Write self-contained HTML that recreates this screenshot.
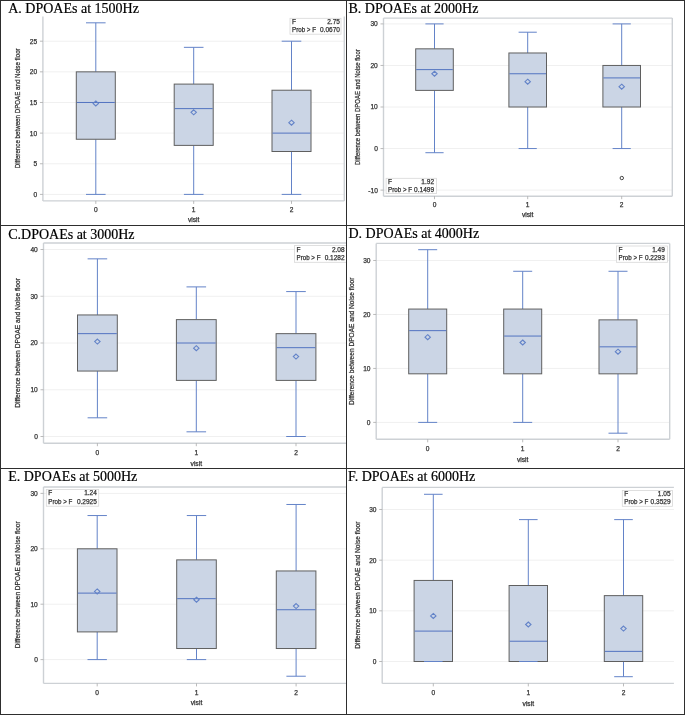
<!DOCTYPE html>
<html><head><meta charset="utf-8"><title>DPOAEs</title>
<style>
html,body{margin:0;padding:0;background:#fff;}
body{width:685px;height:715px;overflow:hidden;}
svg{display:block;font-family:"Liberation Sans", sans-serif;will-change:transform;} .t{stroke:#333;stroke-width:0.25;}
</style></head><body>
<svg width="685" height="715" viewBox="0 0 685 715">
<defs>
<clipPath id="cA"><rect x="0" y="0" width="346" height="225"/></clipPath>
<clipPath id="cB"><rect x="346" y="0" width="338" height="225"/></clipPath>
<clipPath id="cC"><rect x="0" y="225" width="346" height="243"/></clipPath>
<clipPath id="cD"><rect x="346" y="225" width="338" height="243"/></clipPath>
<clipPath id="cE"><rect x="0" y="468" width="346" height="246"/></clipPath>
<clipPath id="cF"><rect x="346" y="468" width="338" height="246"/></clipPath>
</defs>
<rect x="0" y="0" width="685" height="715" fill="#fff"/>
<g clip-path="url(#cA)">
<line x1="42.9" x2="344.3" y1="194.4" y2="194.4" stroke="#f0f0f0" stroke-width="1"/>
<line x1="42.9" x2="344.3" y1="163.76" y2="163.76" stroke="#f0f0f0" stroke-width="1"/>
<line x1="42.9" x2="344.3" y1="133.12" y2="133.12" stroke="#f0f0f0" stroke-width="1"/>
<line x1="42.9" x2="344.3" y1="102.48" y2="102.48" stroke="#f0f0f0" stroke-width="1"/>
<line x1="42.9" x2="344.3" y1="71.84" y2="71.84" stroke="#f0f0f0" stroke-width="1"/>
<line x1="42.9" x2="344.3" y1="41.2" y2="41.2" stroke="#f0f0f0" stroke-width="1"/>
<line x1="42.9" x2="42.9" y1="16.6" y2="200.9" stroke="#cdd1d5" stroke-width="1.4"/>
<line x1="42.9" x2="344.3" y1="200.9" y2="200.9" stroke="#cdd1d5" stroke-width="1.4"/>
<line x1="344.3" x2="344.3" y1="16.6" y2="200.9" stroke="#cdd1d5" stroke-width="1.4"/>
<line x1="39.9" x2="42.9" y1="194.4" y2="194.4" stroke="#aaa" stroke-width="0.8"/>
<text x="37.2" y="196.8" text-anchor="end" font-size="6.6" fill="#333333" class="t">0</text>
<line x1="39.9" x2="42.9" y1="163.76" y2="163.76" stroke="#aaa" stroke-width="0.8"/>
<text x="37.2" y="166.16" text-anchor="end" font-size="6.6" fill="#333333" class="t">5</text>
<line x1="39.9" x2="42.9" y1="133.12" y2="133.12" stroke="#aaa" stroke-width="0.8"/>
<text x="37.2" y="135.52" text-anchor="end" font-size="6.6" fill="#333333" class="t">10</text>
<line x1="39.9" x2="42.9" y1="102.48" y2="102.48" stroke="#aaa" stroke-width="0.8"/>
<text x="37.2" y="104.88" text-anchor="end" font-size="6.6" fill="#333333" class="t">15</text>
<line x1="39.9" x2="42.9" y1="71.84" y2="71.84" stroke="#aaa" stroke-width="0.8"/>
<text x="37.2" y="74.24" text-anchor="end" font-size="6.6" fill="#333333" class="t">20</text>
<line x1="39.9" x2="42.9" y1="41.2" y2="41.2" stroke="#aaa" stroke-width="0.8"/>
<text x="37.2" y="43.6" text-anchor="end" font-size="6.6" fill="#333333" class="t">25</text>
<line x1="95.8" x2="95.8" y1="200.9" y2="203.9" stroke="#aaa" stroke-width="0.8"/>
<text x="95.8" y="212" text-anchor="middle" font-size="6.6" fill="#333333" class="t">0</text>
<line x1="193.7" x2="193.7" y1="200.9" y2="203.9" stroke="#aaa" stroke-width="0.8"/>
<text x="193.7" y="212" text-anchor="middle" font-size="6.6" fill="#333333" class="t">1</text>
<line x1="291.5" x2="291.5" y1="200.9" y2="203.9" stroke="#aaa" stroke-width="0.8"/>
<text x="291.5" y="212" text-anchor="middle" font-size="6.6" fill="#333333" class="t">2</text>
<text x="193.7" y="222.3" text-anchor="middle" font-size="6.7" fill="#333333" class="t">visit</text>
<text transform="translate(19.8,108.3) rotate(-90)" text-anchor="middle" font-size="7.6" textLength="119.9" lengthAdjust="spacingAndGlyphs" fill="#333333" class="t">Difference between DPOAE and Noise floor</text>
<line x1="95.8" x2="95.8" y1="22.82" y2="71.84" stroke="#6383c8" stroke-width="1"/>
<line x1="95.8" x2="95.8" y1="139.25" y2="194.4" stroke="#6383c8" stroke-width="1"/>
<line x1="86" x2="105.6" y1="22.82" y2="22.82" stroke="#6383c8" stroke-width="1"/>
<line x1="86" x2="105.6" y1="194.4" y2="194.4" stroke="#6383c8" stroke-width="1"/>
<rect x="76.3" y="71.84" width="39" height="67.41" fill="#cbd5e5" stroke="#5f5f5f" stroke-width="1"/>
<line x1="76.8" x2="114.8" y1="102.48" y2="102.48" stroke="#5273c0" stroke-width="1"/>
<path d="M95.8,100.9 L98.5,103.4 L95.8,105.9 L93.1,103.4 Z" fill="none" stroke="#6383c8" stroke-width="1.1"/>
<line x1="193.7" x2="193.7" y1="47.33" y2="84.1" stroke="#6383c8" stroke-width="1"/>
<line x1="193.7" x2="193.7" y1="145.38" y2="194.4" stroke="#6383c8" stroke-width="1"/>
<line x1="183.9" x2="203.5" y1="47.33" y2="47.33" stroke="#6383c8" stroke-width="1"/>
<line x1="183.9" x2="203.5" y1="194.4" y2="194.4" stroke="#6383c8" stroke-width="1"/>
<rect x="174.2" y="84.1" width="39" height="61.28" fill="#cbd5e5" stroke="#5f5f5f" stroke-width="1"/>
<line x1="174.7" x2="212.7" y1="108.61" y2="108.61" stroke="#5273c0" stroke-width="1"/>
<path d="M193.7,109.78 L196.4,112.28 L193.7,114.78 L191,112.28 Z" fill="none" stroke="#6383c8" stroke-width="1.1"/>
<line x1="291.5" x2="291.5" y1="41.2" y2="90.22" stroke="#6383c8" stroke-width="1"/>
<line x1="291.5" x2="291.5" y1="151.5" y2="194.4" stroke="#6383c8" stroke-width="1"/>
<line x1="281.7" x2="301.3" y1="41.2" y2="41.2" stroke="#6383c8" stroke-width="1"/>
<line x1="281.7" x2="301.3" y1="194.4" y2="194.4" stroke="#6383c8" stroke-width="1"/>
<rect x="272" y="90.22" width="39" height="61.28" fill="#cbd5e5" stroke="#5f5f5f" stroke-width="1"/>
<line x1="272.5" x2="310.5" y1="133.12" y2="133.12" stroke="#5273c0" stroke-width="1"/>
<path d="M291.5,120.2 L294.2,122.7 L291.5,125.2 L288.8,122.7 Z" fill="none" stroke="#6383c8" stroke-width="1.1"/>
<rect x="290" y="18.3" width="51" height="15.9" fill="#fff" stroke="#d8d8d8" stroke-width="0.8"/>
<text x="292" y="23.9" font-size="6.5" fill="#333333" class="t">F</text>
<text x="339.9" y="23.9" text-anchor="end" font-size="6.5" fill="#333333" class="t">2.75</text>
<text x="292" y="31.7" font-size="6.5" textLength="24" lengthAdjust="spacingAndGlyphs" fill="#333333" class="t">Prob &gt; F</text>
<text x="339.9" y="31.7" text-anchor="end" font-size="6.5" fill="#333333" class="t">0.0670</text>
</g>
<text x="8.2" y="12.9" font-family='"Liberation Serif", serif' font-size="14" fill="#000" stroke="#000" stroke-width="0.2">A. DPOAEs at 1500Hz</text>
<g clip-path="url(#cB)">
<line x1="383.5" x2="672.3" y1="190.1" y2="190.1" stroke="#f0f0f0" stroke-width="1"/>
<line x1="383.5" x2="672.3" y1="148.55" y2="148.55" stroke="#f0f0f0" stroke-width="1"/>
<line x1="383.5" x2="672.3" y1="107" y2="107" stroke="#f0f0f0" stroke-width="1"/>
<line x1="383.5" x2="672.3" y1="65.45" y2="65.45" stroke="#f0f0f0" stroke-width="1"/>
<line x1="383.5" x2="672.3" y1="23.9" y2="23.9" stroke="#f0f0f0" stroke-width="1"/>
<line x1="383.5" x2="672.3" y1="18.1" y2="18.1" stroke="#cdd1d5" stroke-width="1.4"/>
<line x1="383.5" x2="383.5" y1="18.1" y2="196.2" stroke="#cdd1d5" stroke-width="1.4"/>
<line x1="383.5" x2="672.3" y1="196.2" y2="196.2" stroke="#cdd1d5" stroke-width="1.4"/>
<line x1="672.3" x2="672.3" y1="18.1" y2="196.2" stroke="#cdd1d5" stroke-width="1.4"/>
<line x1="380.5" x2="383.5" y1="190.1" y2="190.1" stroke="#aaa" stroke-width="0.8"/>
<text x="377.8" y="192.5" text-anchor="end" font-size="6.6" fill="#333333" class="t">-10</text>
<line x1="380.5" x2="383.5" y1="148.55" y2="148.55" stroke="#aaa" stroke-width="0.8"/>
<text x="377.8" y="150.95" text-anchor="end" font-size="6.6" fill="#333333" class="t">0</text>
<line x1="380.5" x2="383.5" y1="107" y2="107" stroke="#aaa" stroke-width="0.8"/>
<text x="377.8" y="109.4" text-anchor="end" font-size="6.6" fill="#333333" class="t">10</text>
<line x1="380.5" x2="383.5" y1="65.45" y2="65.45" stroke="#aaa" stroke-width="0.8"/>
<text x="377.8" y="67.85" text-anchor="end" font-size="6.6" fill="#333333" class="t">20</text>
<line x1="380.5" x2="383.5" y1="23.9" y2="23.9" stroke="#aaa" stroke-width="0.8"/>
<text x="377.8" y="26.3" text-anchor="end" font-size="6.6" fill="#333333" class="t">30</text>
<line x1="434.5" x2="434.5" y1="196.2" y2="199.2" stroke="#aaa" stroke-width="0.8"/>
<text x="434.5" y="206.6" text-anchor="middle" font-size="6.6" fill="#333333" class="t">0</text>
<line x1="527.7" x2="527.7" y1="196.2" y2="199.2" stroke="#aaa" stroke-width="0.8"/>
<text x="527.7" y="206.6" text-anchor="middle" font-size="6.6" fill="#333333" class="t">1</text>
<line x1="621.7" x2="621.7" y1="196.2" y2="199.2" stroke="#aaa" stroke-width="0.8"/>
<text x="621.7" y="206.6" text-anchor="middle" font-size="6.6" fill="#333333" class="t">2</text>
<text x="527.7" y="216.8" text-anchor="middle" font-size="6.7" fill="#333333" class="t">visit</text>
<text transform="translate(359.6,107.1) rotate(-90)" text-anchor="middle" font-size="7.6" textLength="115.7" lengthAdjust="spacingAndGlyphs" fill="#333333" class="t">Difference between DPOAE and Noise floor</text>
<line x1="434.5" x2="434.5" y1="23.9" y2="48.83" stroke="#6383c8" stroke-width="1"/>
<line x1="434.5" x2="434.5" y1="90.38" y2="152.71" stroke="#6383c8" stroke-width="1"/>
<line x1="425.4" x2="443.6" y1="23.9" y2="23.9" stroke="#6383c8" stroke-width="1"/>
<line x1="425.4" x2="443.6" y1="152.71" y2="152.71" stroke="#6383c8" stroke-width="1"/>
<rect x="415.7" y="48.83" width="37.6" height="41.55" fill="#cbd5e5" stroke="#5f5f5f" stroke-width="1"/>
<line x1="416.2" x2="452.8" y1="69.61" y2="69.61" stroke="#5273c0" stroke-width="1"/>
<path d="M434.5,71.26 L437.2,73.76 L434.5,76.26 L431.8,73.76 Z" fill="none" stroke="#6383c8" stroke-width="1.1"/>
<line x1="527.7" x2="527.7" y1="32.21" y2="52.98" stroke="#6383c8" stroke-width="1"/>
<line x1="527.7" x2="527.7" y1="107" y2="148.55" stroke="#6383c8" stroke-width="1"/>
<line x1="518.6" x2="536.8" y1="32.21" y2="32.21" stroke="#6383c8" stroke-width="1"/>
<line x1="518.6" x2="536.8" y1="148.55" y2="148.55" stroke="#6383c8" stroke-width="1"/>
<rect x="508.9" y="52.98" width="37.6" height="54.02" fill="#cbd5e5" stroke="#5f5f5f" stroke-width="1"/>
<line x1="509.4" x2="546" y1="73.76" y2="73.76" stroke="#5273c0" stroke-width="1"/>
<path d="M527.7,79.15 L530.4,81.65 L527.7,84.15 L525,81.65 Z" fill="none" stroke="#6383c8" stroke-width="1.1"/>
<line x1="621.7" x2="621.7" y1="23.9" y2="65.45" stroke="#6383c8" stroke-width="1"/>
<line x1="621.7" x2="621.7" y1="107" y2="148.55" stroke="#6383c8" stroke-width="1"/>
<line x1="612.6" x2="630.8" y1="23.9" y2="23.9" stroke="#6383c8" stroke-width="1"/>
<line x1="612.6" x2="630.8" y1="148.55" y2="148.55" stroke="#6383c8" stroke-width="1"/>
<rect x="602.9" y="65.45" width="37.6" height="41.55" fill="#cbd5e5" stroke="#5f5f5f" stroke-width="1"/>
<line x1="603.4" x2="640" y1="77.92" y2="77.92" stroke="#5273c0" stroke-width="1"/>
<path d="M621.7,84.14 L624.4,86.64 L621.7,89.14 L619,86.64 Z" fill="none" stroke="#6383c8" stroke-width="1.1"/>
<circle cx="621.8" cy="178.04" r="1.7" fill="none" stroke="#333" stroke-width="0.9"/>
<rect x="386.1" y="178.3" width="50.4" height="15.3" fill="#fff" stroke="#d8d8d8" stroke-width="0.8"/>
<text x="388.1" y="184" font-size="6.5" fill="#333333" class="t">F</text>
<text x="434" y="184" text-anchor="end" font-size="6.5" fill="#333333" class="t">1.92</text>
<text x="388.1" y="191.5" font-size="6.5" textLength="24" lengthAdjust="spacingAndGlyphs" fill="#333333" class="t">Prob &gt; F</text>
<text x="434" y="191.5" text-anchor="end" font-size="6.5" fill="#333333" class="t">0.1499</text>
</g>
<text x="348.5" y="12.9" font-family='"Liberation Serif", serif' font-size="14" fill="#000" stroke="#000" stroke-width="0.2">B. DPOAEs at 2000Hz</text>
<g clip-path="url(#cC)">
<line x1="43.5" x2="360" y1="436.5" y2="436.5" stroke="#f0f0f0" stroke-width="1"/>
<line x1="43.5" x2="360" y1="389.75" y2="389.75" stroke="#f0f0f0" stroke-width="1"/>
<line x1="43.5" x2="360" y1="343" y2="343" stroke="#f0f0f0" stroke-width="1"/>
<line x1="43.5" x2="360" y1="296.25" y2="296.25" stroke="#f0f0f0" stroke-width="1"/>
<line x1="43.5" x2="360" y1="249.5" y2="249.5" stroke="#f0f0f0" stroke-width="1"/>
<line x1="43.5" x2="360" y1="243" y2="243" stroke="#cdd1d5" stroke-width="1.4"/>
<line x1="43.5" x2="43.5" y1="243" y2="443.2" stroke="#cdd1d5" stroke-width="1.4"/>
<line x1="43.5" x2="360" y1="443.2" y2="443.2" stroke="#cdd1d5" stroke-width="1.4"/>
<line x1="360" x2="360" y1="243" y2="443.2" stroke="#cdd1d5" stroke-width="1.4"/>
<line x1="40.5" x2="43.5" y1="436.5" y2="436.5" stroke="#aaa" stroke-width="0.8"/>
<text x="37.8" y="438.9" text-anchor="end" font-size="6.6" fill="#333333" class="t">0</text>
<line x1="40.5" x2="43.5" y1="389.75" y2="389.75" stroke="#aaa" stroke-width="0.8"/>
<text x="37.8" y="392.15" text-anchor="end" font-size="6.6" fill="#333333" class="t">10</text>
<line x1="40.5" x2="43.5" y1="343" y2="343" stroke="#aaa" stroke-width="0.8"/>
<text x="37.8" y="345.4" text-anchor="end" font-size="6.6" fill="#333333" class="t">20</text>
<line x1="40.5" x2="43.5" y1="296.25" y2="296.25" stroke="#aaa" stroke-width="0.8"/>
<text x="37.8" y="298.65" text-anchor="end" font-size="6.6" fill="#333333" class="t">30</text>
<line x1="40.5" x2="43.5" y1="249.5" y2="249.5" stroke="#aaa" stroke-width="0.8"/>
<text x="37.8" y="251.9" text-anchor="end" font-size="6.6" fill="#333333" class="t">40</text>
<line x1="97.4" x2="97.4" y1="443.2" y2="446.2" stroke="#aaa" stroke-width="0.8"/>
<text x="97.4" y="454.5" text-anchor="middle" font-size="6.6" fill="#333333" class="t">0</text>
<line x1="196.3" x2="196.3" y1="443.2" y2="446.2" stroke="#aaa" stroke-width="0.8"/>
<text x="196.3" y="454.5" text-anchor="middle" font-size="6.6" fill="#333333" class="t">1</text>
<line x1="296" x2="296" y1="443.2" y2="446.2" stroke="#aaa" stroke-width="0.8"/>
<text x="296" y="454.5" text-anchor="middle" font-size="6.6" fill="#333333" class="t">2</text>
<text x="196.3" y="465.8" text-anchor="middle" font-size="6.7" fill="#333333" class="t">visit</text>
<text transform="translate(20,342.9) rotate(-90)" text-anchor="middle" font-size="7.6" textLength="129.9" lengthAdjust="spacingAndGlyphs" fill="#333333" class="t">Difference between DPOAE and Noise floor</text>
<line x1="97.4" x2="97.4" y1="258.85" y2="314.95" stroke="#6383c8" stroke-width="1"/>
<line x1="97.4" x2="97.4" y1="371.05" y2="417.8" stroke="#6383c8" stroke-width="1"/>
<line x1="87.6" x2="107.2" y1="258.85" y2="258.85" stroke="#6383c8" stroke-width="1"/>
<line x1="87.6" x2="107.2" y1="417.8" y2="417.8" stroke="#6383c8" stroke-width="1"/>
<rect x="77.5" y="314.95" width="39.8" height="56.1" fill="#cbd5e5" stroke="#5f5f5f" stroke-width="1"/>
<line x1="78" x2="116.8" y1="333.65" y2="333.65" stroke="#5273c0" stroke-width="1"/>
<path d="M97.4,339.1 L100.1,341.6 L97.4,344.1 L94.7,341.6 Z" fill="none" stroke="#6383c8" stroke-width="1.1"/>
<line x1="196.3" x2="196.3" y1="286.9" y2="319.62" stroke="#6383c8" stroke-width="1"/>
<line x1="196.3" x2="196.3" y1="380.4" y2="431.82" stroke="#6383c8" stroke-width="1"/>
<line x1="186.5" x2="206.1" y1="286.9" y2="286.9" stroke="#6383c8" stroke-width="1"/>
<line x1="186.5" x2="206.1" y1="431.82" y2="431.82" stroke="#6383c8" stroke-width="1"/>
<rect x="176.4" y="319.62" width="39.8" height="60.77" fill="#cbd5e5" stroke="#5f5f5f" stroke-width="1"/>
<line x1="176.9" x2="215.7" y1="343" y2="343" stroke="#5273c0" stroke-width="1"/>
<path d="M196.3,345.64 L199,348.14 L196.3,350.64 L193.6,348.14 Z" fill="none" stroke="#6383c8" stroke-width="1.1"/>
<line x1="296" x2="296" y1="291.58" y2="333.65" stroke="#6383c8" stroke-width="1"/>
<line x1="296" x2="296" y1="380.4" y2="436.5" stroke="#6383c8" stroke-width="1"/>
<line x1="286.2" x2="305.8" y1="291.58" y2="291.58" stroke="#6383c8" stroke-width="1"/>
<line x1="286.2" x2="305.8" y1="436.5" y2="436.5" stroke="#6383c8" stroke-width="1"/>
<rect x="276.1" y="333.65" width="39.8" height="46.75" fill="#cbd5e5" stroke="#5f5f5f" stroke-width="1"/>
<line x1="276.6" x2="315.4" y1="347.68" y2="347.68" stroke="#5273c0" stroke-width="1"/>
<path d="M296,354.06 L298.7,356.56 L296,359.06 L293.3,356.56 Z" fill="none" stroke="#6383c8" stroke-width="1.1"/>
<rect x="294.5" y="245.6" width="53.5" height="16.7" fill="#fff" stroke="#d8d8d8" stroke-width="0.8"/>
<text x="296.5" y="251.8" font-size="6.5" fill="#333333" class="t">F</text>
<text x="344.6" y="251.8" text-anchor="end" font-size="6.5" fill="#333333" class="t">2.08</text>
<text x="296.5" y="259.8" font-size="6.5" textLength="24" lengthAdjust="spacingAndGlyphs" fill="#333333" class="t">Prob &gt; F</text>
<text x="344.6" y="259.8" text-anchor="end" font-size="6.5" fill="#333333" class="t">0.1282</text>
</g>
<text x="8.2" y="238.7" font-family='"Liberation Serif", serif' font-size="14" fill="#000" stroke="#000" stroke-width="0.2">C.DPOAEs at 3000Hz</text>
<g clip-path="url(#cD)">
<line x1="376.2" x2="669.7" y1="422.4" y2="422.4" stroke="#f0f0f0" stroke-width="1"/>
<line x1="376.2" x2="669.7" y1="368.43" y2="368.43" stroke="#f0f0f0" stroke-width="1"/>
<line x1="376.2" x2="669.7" y1="314.46" y2="314.46" stroke="#f0f0f0" stroke-width="1"/>
<line x1="376.2" x2="669.7" y1="260.49" y2="260.49" stroke="#f0f0f0" stroke-width="1"/>
<line x1="376.2" x2="669.7" y1="243.4" y2="243.4" stroke="#cdd1d5" stroke-width="1.4"/>
<line x1="376.2" x2="376.2" y1="243.4" y2="439.3" stroke="#cdd1d5" stroke-width="1.4"/>
<line x1="376.2" x2="669.7" y1="439.3" y2="439.3" stroke="#cdd1d5" stroke-width="1.4"/>
<line x1="669.7" x2="669.7" y1="243.4" y2="439.3" stroke="#cdd1d5" stroke-width="1.4"/>
<line x1="373.2" x2="376.2" y1="422.4" y2="422.4" stroke="#aaa" stroke-width="0.8"/>
<text x="370.5" y="424.8" text-anchor="end" font-size="6.6" fill="#333333" class="t">0</text>
<line x1="373.2" x2="376.2" y1="368.43" y2="368.43" stroke="#aaa" stroke-width="0.8"/>
<text x="370.5" y="370.83" text-anchor="end" font-size="6.6" fill="#333333" class="t">10</text>
<line x1="373.2" x2="376.2" y1="314.46" y2="314.46" stroke="#aaa" stroke-width="0.8"/>
<text x="370.5" y="316.86" text-anchor="end" font-size="6.6" fill="#333333" class="t">20</text>
<line x1="373.2" x2="376.2" y1="260.49" y2="260.49" stroke="#aaa" stroke-width="0.8"/>
<text x="370.5" y="262.89" text-anchor="end" font-size="6.6" fill="#333333" class="t">30</text>
<line x1="427.7" x2="427.7" y1="439.3" y2="442.3" stroke="#aaa" stroke-width="0.8"/>
<text x="427.7" y="450.8" text-anchor="middle" font-size="6.6" fill="#333333" class="t">0</text>
<line x1="522.7" x2="522.7" y1="439.3" y2="442.3" stroke="#aaa" stroke-width="0.8"/>
<text x="522.7" y="450.8" text-anchor="middle" font-size="6.6" fill="#333333" class="t">1</text>
<line x1="618" x2="618" y1="439.3" y2="442.3" stroke="#aaa" stroke-width="0.8"/>
<text x="618" y="450.8" text-anchor="middle" font-size="6.6" fill="#333333" class="t">2</text>
<text x="522.7" y="461.5" text-anchor="middle" font-size="6.7" fill="#333333" class="t">visit</text>
<text transform="translate(353.8,341.25) rotate(-90)" text-anchor="middle" font-size="7.6" textLength="127.4" lengthAdjust="spacingAndGlyphs" fill="#333333" class="t">Difference between DPOAE and Noise floor</text>
<line x1="427.7" x2="427.7" y1="249.7" y2="309.06" stroke="#6383c8" stroke-width="1"/>
<line x1="427.7" x2="427.7" y1="373.83" y2="422.4" stroke="#6383c8" stroke-width="1"/>
<line x1="418.2" x2="437.2" y1="249.7" y2="249.7" stroke="#6383c8" stroke-width="1"/>
<line x1="418.2" x2="437.2" y1="422.4" y2="422.4" stroke="#6383c8" stroke-width="1"/>
<rect x="408.7" y="309.06" width="38" height="64.76" fill="#cbd5e5" stroke="#5f5f5f" stroke-width="1"/>
<line x1="409.2" x2="446.2" y1="330.65" y2="330.65" stroke="#5273c0" stroke-width="1"/>
<path d="M427.7,334.63 L430.4,337.13 L427.7,339.63 L425,337.13 Z" fill="none" stroke="#6383c8" stroke-width="1.1"/>
<line x1="522.7" x2="522.7" y1="271.28" y2="309.06" stroke="#6383c8" stroke-width="1"/>
<line x1="522.7" x2="522.7" y1="373.83" y2="422.4" stroke="#6383c8" stroke-width="1"/>
<line x1="513.2" x2="532.2" y1="271.28" y2="271.28" stroke="#6383c8" stroke-width="1"/>
<line x1="513.2" x2="532.2" y1="422.4" y2="422.4" stroke="#6383c8" stroke-width="1"/>
<rect x="503.7" y="309.06" width="38" height="64.76" fill="#cbd5e5" stroke="#5f5f5f" stroke-width="1"/>
<line x1="504.2" x2="541.2" y1="336.05" y2="336.05" stroke="#5273c0" stroke-width="1"/>
<path d="M522.7,340.02 L525.4,342.52 L522.7,345.02 L520,342.52 Z" fill="none" stroke="#6383c8" stroke-width="1.1"/>
<line x1="618" x2="618" y1="271.28" y2="319.86" stroke="#6383c8" stroke-width="1"/>
<line x1="618" x2="618" y1="373.83" y2="433.19" stroke="#6383c8" stroke-width="1"/>
<line x1="608.5" x2="627.5" y1="271.28" y2="271.28" stroke="#6383c8" stroke-width="1"/>
<line x1="608.5" x2="627.5" y1="433.19" y2="433.19" stroke="#6383c8" stroke-width="1"/>
<rect x="599" y="319.86" width="38" height="53.97" fill="#cbd5e5" stroke="#5f5f5f" stroke-width="1"/>
<line x1="599.5" x2="636.5" y1="346.84" y2="346.84" stroke="#5273c0" stroke-width="1"/>
<path d="M618,349.2 L620.7,351.7 L618,354.2 L615.3,351.7 Z" fill="none" stroke="#6383c8" stroke-width="1.1"/>
<rect x="616.6" y="246" width="50.9" height="16.3" fill="#fff" stroke="#d8d8d8" stroke-width="0.8"/>
<text x="618.6" y="251.9" font-size="6.5" fill="#333333" class="t">F</text>
<text x="664.8" y="251.9" text-anchor="end" font-size="6.5" fill="#333333" class="t">1.49</text>
<text x="618.6" y="259.9" font-size="6.5" textLength="24" lengthAdjust="spacingAndGlyphs" fill="#333333" class="t">Prob &gt; F</text>
<text x="664.8" y="259.9" text-anchor="end" font-size="6.5" fill="#333333" class="t">0.2293</text>
</g>
<text x="348.5" y="238.3" font-family='"Liberation Serif", serif' font-size="14" fill="#000" stroke="#000" stroke-width="0.2">D. DPOAEs at 4000Hz</text>
<g clip-path="url(#cE)">
<line x1="43.5" x2="360" y1="659.6" y2="659.6" stroke="#f0f0f0" stroke-width="1"/>
<line x1="43.5" x2="360" y1="604.2" y2="604.2" stroke="#f0f0f0" stroke-width="1"/>
<line x1="43.5" x2="360" y1="548.8" y2="548.8" stroke="#f0f0f0" stroke-width="1"/>
<line x1="43.5" x2="360" y1="493.4" y2="493.4" stroke="#f0f0f0" stroke-width="1"/>
<line x1="43.5" x2="360" y1="487" y2="487" stroke="#cdd1d5" stroke-width="1.4"/>
<line x1="43.5" x2="43.5" y1="487" y2="683.4" stroke="#cdd1d5" stroke-width="1.4"/>
<line x1="43.5" x2="360" y1="683.4" y2="683.4" stroke="#cdd1d5" stroke-width="1.4"/>
<line x1="360" x2="360" y1="487" y2="683.4" stroke="#cdd1d5" stroke-width="1.4"/>
<line x1="40.5" x2="43.5" y1="659.6" y2="659.6" stroke="#aaa" stroke-width="0.8"/>
<text x="37.8" y="662" text-anchor="end" font-size="6.6" fill="#333333" class="t">0</text>
<line x1="40.5" x2="43.5" y1="604.2" y2="604.2" stroke="#aaa" stroke-width="0.8"/>
<text x="37.8" y="606.6" text-anchor="end" font-size="6.6" fill="#333333" class="t">10</text>
<line x1="40.5" x2="43.5" y1="548.8" y2="548.8" stroke="#aaa" stroke-width="0.8"/>
<text x="37.8" y="551.2" text-anchor="end" font-size="6.6" fill="#333333" class="t">20</text>
<line x1="40.5" x2="43.5" y1="493.4" y2="493.4" stroke="#aaa" stroke-width="0.8"/>
<text x="37.8" y="495.8" text-anchor="end" font-size="6.6" fill="#333333" class="t">30</text>
<line x1="97.2" x2="97.2" y1="683.4" y2="686.4" stroke="#aaa" stroke-width="0.8"/>
<text x="97.2" y="694.7" text-anchor="middle" font-size="6.6" fill="#333333" class="t">0</text>
<line x1="196.5" x2="196.5" y1="683.4" y2="686.4" stroke="#aaa" stroke-width="0.8"/>
<text x="196.5" y="694.7" text-anchor="middle" font-size="6.6" fill="#333333" class="t">1</text>
<line x1="296.1" x2="296.1" y1="683.4" y2="686.4" stroke="#aaa" stroke-width="0.8"/>
<text x="296.1" y="694.7" text-anchor="middle" font-size="6.6" fill="#333333" class="t">2</text>
<text x="196.5" y="705.3" text-anchor="middle" font-size="6.7" fill="#333333" class="t">visit</text>
<text transform="translate(20.1,584.8) rotate(-90)" text-anchor="middle" font-size="7.6" textLength="126.9" lengthAdjust="spacingAndGlyphs" fill="#333333" class="t">Difference between DPOAE and Noise floor</text>
<line x1="97.2" x2="97.2" y1="515.56" y2="548.8" stroke="#6383c8" stroke-width="1"/>
<line x1="97.2" x2="97.2" y1="631.9" y2="659.6" stroke="#6383c8" stroke-width="1"/>
<line x1="87.5" x2="106.9" y1="515.56" y2="515.56" stroke="#6383c8" stroke-width="1"/>
<line x1="87.5" x2="106.9" y1="659.6" y2="659.6" stroke="#6383c8" stroke-width="1"/>
<rect x="77.4" y="548.8" width="39.6" height="83.1" fill="#cbd5e5" stroke="#5f5f5f" stroke-width="1"/>
<line x1="77.9" x2="116.5" y1="593.12" y2="593.12" stroke="#5273c0" stroke-width="1"/>
<path d="M97.2,588.96 L99.9,591.46 L97.2,593.96 L94.5,591.46 Z" fill="none" stroke="#6383c8" stroke-width="1.1"/>
<line x1="196.5" x2="196.5" y1="515.56" y2="559.88" stroke="#6383c8" stroke-width="1"/>
<line x1="196.5" x2="196.5" y1="648.52" y2="659.6" stroke="#6383c8" stroke-width="1"/>
<line x1="186.8" x2="206.2" y1="515.56" y2="515.56" stroke="#6383c8" stroke-width="1"/>
<line x1="186.8" x2="206.2" y1="659.6" y2="659.6" stroke="#6383c8" stroke-width="1"/>
<rect x="176.7" y="559.88" width="39.6" height="88.64" fill="#cbd5e5" stroke="#5f5f5f" stroke-width="1"/>
<line x1="177.2" x2="215.8" y1="598.66" y2="598.66" stroke="#5273c0" stroke-width="1"/>
<path d="M196.5,597.27 L199.2,599.77 L196.5,602.27 L193.8,599.77 Z" fill="none" stroke="#6383c8" stroke-width="1.1"/>
<line x1="296.1" x2="296.1" y1="504.48" y2="570.96" stroke="#6383c8" stroke-width="1"/>
<line x1="296.1" x2="296.1" y1="648.52" y2="676.22" stroke="#6383c8" stroke-width="1"/>
<line x1="286.4" x2="305.8" y1="504.48" y2="504.48" stroke="#6383c8" stroke-width="1"/>
<line x1="286.4" x2="305.8" y1="676.22" y2="676.22" stroke="#6383c8" stroke-width="1"/>
<rect x="276.3" y="570.96" width="39.6" height="77.56" fill="#cbd5e5" stroke="#5f5f5f" stroke-width="1"/>
<line x1="276.8" x2="315.4" y1="609.74" y2="609.74" stroke="#5273c0" stroke-width="1"/>
<path d="M296.1,603.58 L298.8,606.08 L296.1,608.58 L293.4,606.08 Z" fill="none" stroke="#6383c8" stroke-width="1.1"/>
<rect x="46.3" y="489.5" width="52.4" height="16.7" fill="#fff" stroke="#d8d8d8" stroke-width="0.8"/>
<text x="48.3" y="495.1" font-size="6.5" fill="#333333" class="t">F</text>
<text x="96.8" y="495.1" text-anchor="end" font-size="6.5" fill="#333333" class="t">1.24</text>
<text x="48.3" y="503.5" font-size="6.5" textLength="24" lengthAdjust="spacingAndGlyphs" fill="#333333" class="t">Prob &gt; F</text>
<text x="96.8" y="503.5" text-anchor="end" font-size="6.5" fill="#333333" class="t">0.2925</text>
</g>
<text x="8.2" y="481.3" font-family='"Liberation Serif", serif' font-size="14" fill="#000" stroke="#000" stroke-width="0.2">E. DPOAEs at 5000Hz</text>
<g clip-path="url(#cF)">
<line x1="382.2" x2="673.9" y1="661.5" y2="661.5" stroke="#f0f0f0" stroke-width="1"/>
<line x1="382.2" x2="673.9" y1="610.83" y2="610.83" stroke="#f0f0f0" stroke-width="1"/>
<line x1="382.2" x2="673.9" y1="560.16" y2="560.16" stroke="#f0f0f0" stroke-width="1"/>
<line x1="382.2" x2="673.9" y1="509.49" y2="509.49" stroke="#f0f0f0" stroke-width="1"/>
<line x1="382.2" x2="673.9" y1="487.4" y2="487.4" stroke="#cdd1d5" stroke-width="1.4"/>
<line x1="382.2" x2="382.2" y1="487.4" y2="683.4" stroke="#cdd1d5" stroke-width="1.4"/>
<line x1="382.2" x2="673.9" y1="683.4" y2="683.4" stroke="#cdd1d5" stroke-width="1.4"/>
<line x1="379.2" x2="382.2" y1="661.5" y2="661.5" stroke="#aaa" stroke-width="0.8"/>
<text x="376.5" y="663.9" text-anchor="end" font-size="6.6" fill="#333333" class="t">0</text>
<line x1="379.2" x2="382.2" y1="610.83" y2="610.83" stroke="#aaa" stroke-width="0.8"/>
<text x="376.5" y="613.23" text-anchor="end" font-size="6.6" fill="#333333" class="t">10</text>
<line x1="379.2" x2="382.2" y1="560.16" y2="560.16" stroke="#aaa" stroke-width="0.8"/>
<text x="376.5" y="562.56" text-anchor="end" font-size="6.6" fill="#333333" class="t">20</text>
<line x1="379.2" x2="382.2" y1="509.49" y2="509.49" stroke="#aaa" stroke-width="0.8"/>
<text x="376.5" y="511.89" text-anchor="end" font-size="6.6" fill="#333333" class="t">30</text>
<line x1="433.3" x2="433.3" y1="683.4" y2="686.4" stroke="#aaa" stroke-width="0.8"/>
<text x="433.3" y="694.5" text-anchor="middle" font-size="6.6" fill="#333333" class="t">0</text>
<line x1="528.3" x2="528.3" y1="683.4" y2="686.4" stroke="#aaa" stroke-width="0.8"/>
<text x="528.3" y="694.5" text-anchor="middle" font-size="6.6" fill="#333333" class="t">1</text>
<line x1="623.5" x2="623.5" y1="683.4" y2="686.4" stroke="#aaa" stroke-width="0.8"/>
<text x="623.5" y="694.5" text-anchor="middle" font-size="6.6" fill="#333333" class="t">2</text>
<text x="528.3" y="705.6" text-anchor="middle" font-size="6.7" fill="#333333" class="t">visit</text>
<text transform="translate(359.7,585.15) rotate(-90)" text-anchor="middle" font-size="7.6" textLength="127.2" lengthAdjust="spacingAndGlyphs" fill="#333333" class="t">Difference between DPOAE and Noise floor</text>
<line x1="433.3" x2="433.3" y1="494.29" y2="580.43" stroke="#6383c8" stroke-width="1"/>
<line x1="433.3" x2="433.3" y1="661.5" y2="661.5" stroke="#6383c8" stroke-width="1"/>
<line x1="424" x2="442.6" y1="494.29" y2="494.29" stroke="#6383c8" stroke-width="1"/>
<line x1="424" x2="442.6" y1="661.5" y2="661.5" stroke="#6383c8" stroke-width="1"/>
<rect x="414.1" y="580.43" width="38.4" height="81.07" fill="#cbd5e5" stroke="#5f5f5f" stroke-width="1"/>
<line x1="414.6" x2="452" y1="631.1" y2="631.1" stroke="#5273c0" stroke-width="1"/>
<line x1="424" x2="442.6" y1="661.5" y2="661.5" stroke="#6383c8" stroke-width="1"/>
<path d="M433.3,613.4 L436,615.9 L433.3,618.4 L430.6,615.9 Z" fill="none" stroke="#6383c8" stroke-width="1.1"/>
<line x1="528.3" x2="528.3" y1="519.62" y2="585.5" stroke="#6383c8" stroke-width="1"/>
<line x1="528.3" x2="528.3" y1="661.5" y2="661.5" stroke="#6383c8" stroke-width="1"/>
<line x1="519" x2="537.6" y1="519.62" y2="519.62" stroke="#6383c8" stroke-width="1"/>
<line x1="519" x2="537.6" y1="661.5" y2="661.5" stroke="#6383c8" stroke-width="1"/>
<rect x="509.1" y="585.5" width="38.4" height="76" fill="#cbd5e5" stroke="#5f5f5f" stroke-width="1"/>
<line x1="509.6" x2="547" y1="641.23" y2="641.23" stroke="#5273c0" stroke-width="1"/>
<line x1="519" x2="537.6" y1="661.5" y2="661.5" stroke="#6383c8" stroke-width="1"/>
<path d="M528.3,622.01 L531,624.51 L528.3,627.01 L525.6,624.51 Z" fill="none" stroke="#6383c8" stroke-width="1.1"/>
<line x1="623.5" x2="623.5" y1="519.62" y2="595.63" stroke="#6383c8" stroke-width="1"/>
<line x1="623.5" x2="623.5" y1="661.5" y2="676.7" stroke="#6383c8" stroke-width="1"/>
<line x1="614.2" x2="632.8" y1="519.62" y2="519.62" stroke="#6383c8" stroke-width="1"/>
<line x1="614.2" x2="632.8" y1="676.7" y2="676.7" stroke="#6383c8" stroke-width="1"/>
<rect x="604.3" y="595.63" width="38.4" height="65.87" fill="#cbd5e5" stroke="#5f5f5f" stroke-width="1"/>
<line x1="604.8" x2="642.2" y1="651.37" y2="651.37" stroke="#5273c0" stroke-width="1"/>
<path d="M623.5,626.06 L626.2,628.56 L623.5,631.06 L620.8,628.56 Z" fill="none" stroke="#6383c8" stroke-width="1.1"/>
<rect x="622.3" y="490.4" width="50.1" height="15.9" fill="#fff" stroke="#d8d8d8" stroke-width="0.8"/>
<text x="624.3" y="495.9" font-size="6.5" fill="#333333" class="t">F</text>
<text x="670.5" y="495.9" text-anchor="end" font-size="6.5" fill="#333333" class="t">1.05</text>
<text x="624.3" y="503.9" font-size="6.5" textLength="24" lengthAdjust="spacingAndGlyphs" fill="#333333" class="t">Prob &gt; F</text>
<text x="670.5" y="503.9" text-anchor="end" font-size="6.5" fill="#333333" class="t">0.3529</text>
</g>
<text x="348" y="480.7" font-family='"Liberation Serif", serif' font-size="14" fill="#000" stroke="#000" stroke-width="0.2">F. DPOAEs at 6000Hz</text>
<g stroke="#2e2e2e" stroke-width="1" fill="none">
<rect x="0.5" y="0.5" width="684" height="714"/>
<line x1="346.5" x2="346.5" y1="0" y2="715"/>
<line x1="0" x2="685" y1="225.5" y2="225.5"/>
<line x1="0" x2="685" y1="468.5" y2="468.5"/>
</g>
</svg>
</body></html>
